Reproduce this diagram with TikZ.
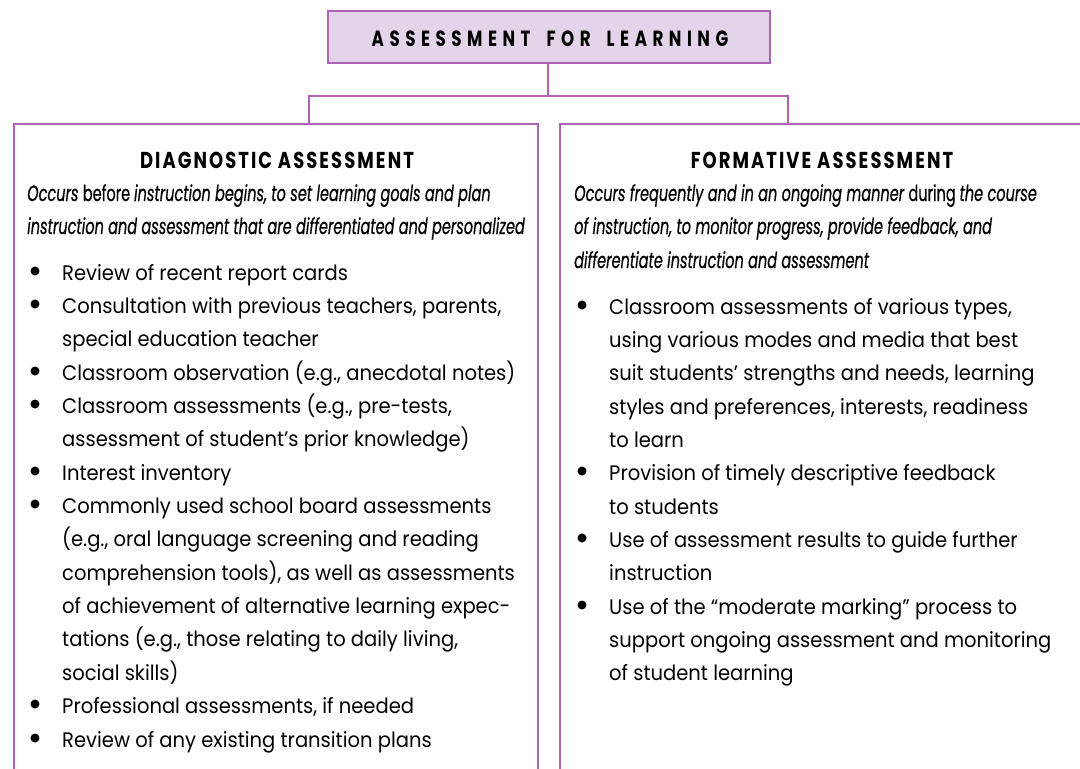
\documentclass[tikz,border=0pt]{standalone}
\usepackage{fontspec}
\newfontfamily\bodyfont[FakeStretch=0.93]{Poppins}
\newfontfamily\condfont[FakeStretch=0.66,FakeBold=0.5]{Poppins}
\newfontfamily\headfont[FakeStretch=0.78,LetterSpace=9]{Poppins}
\newfontfamily\titlefont[FakeStretch=0.76,LetterSpace=25]{Poppins}
\definecolor{purp}{RGB}{176,98,182}
\definecolor{lav}{RGB}{228,212,234}
\tikzset{
  frame/.style={draw=purp,line width=1.8pt},
  body/.style={anchor=base west,inner sep=0pt,font=\bodyfont\fontsize{21}{25}\selectfont},
  intro/.style={anchor=base west,inner sep=0pt,font=\condfont\fontsize{22}{26}\selectfont},
  head/.style={anchor=base,inner sep=0pt,font=\headfont\bfseries\fontsize{23}{27}\selectfont},
  bul/.style={fill=black},
}
\begin{document}
\begin{tikzpicture}[x=1pt,y=-1pt]
\useasboundingbox (0,0) rectangle (1080,769);
\clip (0,0) rectangle (1080,769);
% title
\node[frame,fill=lav,minimum width=442,minimum height=52,anchor=north west,inner sep=0pt] (title) at (327,10) {};
\node[anchor=base,inner sep=0pt,font=\titlefont\bfseries\fontsize{22}{26}\selectfont] (ttext) at (550,46) {ASSESSMENT\hspace{16pt}FOR\hspace{16pt}LEARNING};
% boxes
\node[frame,minimum width=524,minimum height=760,anchor=north west,inner sep=0pt] (diag) at (13,123) {};
\node[frame,minimum width=560,minimum height=760,anchor=north west,inner sep=0pt] (form) at (559,123) {};
% connectors
\coordinate (jm) at (548,96);
\coordinate (jl) at (309,96);
\coordinate (jr) at (788,96);
\draw[purp,line width=1.8pt] (title.south -| jm) -- (jm);
\draw[purp,line width=1.8pt] (jl |- diag.north) -- (jl) -- (jr) -- (jr |- form.north);
% left heading
\node[head] (dh) at (277,168) {DIAGNOSTIC ASSESSMENT};
\node[intro] (di1) at (27,201) {\itshape Occurs \upshape before \itshape instruction begins, to set learning goals and plan};
\node[intro] (di2) at (27,234) {\itshape instruction and assessment that are differentiated and personalized};
% right heading
\node[head] (fh) at (822,168) {FORMATIVE ASSESSMENT};
\node[intro] (fi1) at (574,201) {\itshape Occurs frequently and in an ongoing manner \upshape during \itshape the course};
\node[intro] (fi2) at (574,234) {\itshape of instruction, to monitor progress, provide feedback, and};
\node[intro] (fi3) at (574,268) {\itshape differentiate instruction and assessment};
% left bullets
\foreach \y in {271,304,371,404,471,504,704,738} \fill[bul] (35,\y) circle (4.5);
\node[body] (l1) at (62,280) {Review of recent report cards};
\node[body] (l2) at (62,313) {Consultation with previous teachers, parents,};
\node[body] (l3) at (62,346) {special education teacher};
\node[body] (l4) at (62,380) {Classroom observation (e.g., anecdotal notes)};
\node[body] (l5) at (62,413) {Classroom assessments (e.g., pre-tests,};
\node[body] (l6) at (62,446) {assessment of student’s prior knowledge)};
\node[body] (l7) at (62,480) {Interest inventory};
\node[body] (l8) at (62,513) {Commonly used school board assessments};
\node[body] (l9) at (62,546) {(e.g., oral language screening and reading};
\node[body] (l10) at (62,580) {comprehension tools), as well as assessments};
\node[body] (l11) at (62,613) {of achievement of alternative learning expec-};
\node[body] (l12) at (62,646) {tations (e.g., those relating to daily living,};
\node[body] (l13) at (62,680) {social skills)};
\node[body] (l14) at (62,713) {Professional assessments, if needed};
\node[body] (l15) at (62,747) {Review of any existing transition plans};
% right bullets
\foreach \y in {305,471,538,605} \fill[bul] (582,\y) circle (4.5);
\node[body] (r1) at (609,314) {Classroom assessments of various types,};
\node[body] (r2) at (609,347) {using various modes and media that best};
\node[body] (r3) at (609,380) {suit students’ strengths and needs, learning};
\node[body] (r4) at (609,414) {styles and preferences, interests, readiness};
\node[body] (r5) at (609,447) {to learn};
\node[body] (r6) at (609,480) {Provision of timely descriptive feedback};
\node[body] (r7) at (609,514) {to students};
\node[body] (r8) at (609,547) {Use of assessment results to guide further};
\node[body] (r9) at (609,580) {instruction};
\node[body] (r10) at (609,614) {Use of the “moderate marking” process to};
\node[body] (r11) at (609,647) {support ongoing assessment and monitoring};
\node[body] (r12) at (609,680) {of student learning};
\end{tikzpicture}
\end{document}
